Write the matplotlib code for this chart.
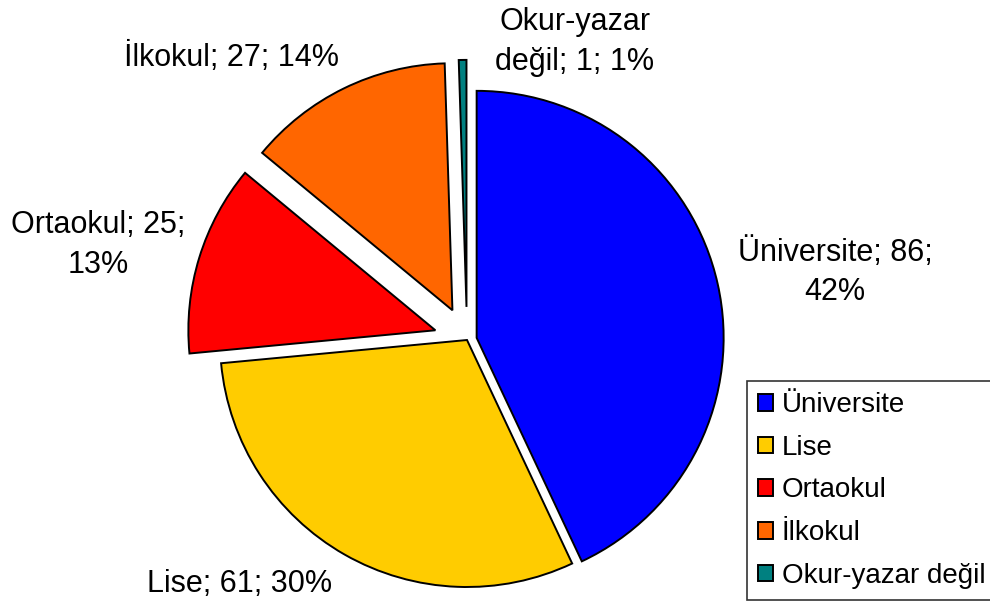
import matplotlib

matplotlib.use("Agg")

import matplotlib.pyplot as plt


plt.rcParams["font.family"] = ["Liberation Sans", "DejaVu Sans"]

# education level counts
categories = [
    "Üniversite",
    "Lise",
    "Ortaokul",
    "İlkokul",
    "Okur-yazar değil",
]
counts = [86, 61, 25, 27, 1]
percent_labels = [42, 30, 13, 14, 1]

colors = ["#0000FF", "#FFCC00", "#FF0000", "#FF6600", "#008080"]
explode = [0.04, 0.0, 0.134, 0.134, 0.134]

# label text + centre position in pixels (x, y from top)
label_texts = [
    "Üniversite; 86;\n42%",
    "Lise; 61; 30%",
    "Ortaokul; 25;\n13%",
    "İlkokul; 27; 14%",
    "Okur-yazar\ndeğil; 1; 1%",
]
label_pixels = [
    (835, 272),
    (240, 584),
    (98, 245),
    (232, 57),
    (575, 42),
]

W, H = 990, 604
CENTER = (467, 340)
RADIUS = 247


figure = plt.figure(figsize=(W / 100, H / 100), dpi=100, facecolor="white")
axis = figure.add_axes([0, 0, 1, 1])

wedges, _ = axis.pie(
    counts,
    colors=colors,
    explode=explode,
    startangle=90,
    counterclock=False,
    radius=1.0,
    wedgeprops=dict(edgecolor="black", linewidth=1.4),
)

# scale so that 1 data unit == RADIUS pixels, pie centre at CENTER
axis.set_xlim(-CENTER[0] / RADIUS, (W - CENTER[0]) / RADIUS)
axis.set_ylim(-(H - CENTER[1]) / RADIUS, CENTER[1] / RADIUS)
axis.set_aspect("auto")
axis.axis("off")

for text, (px, py) in zip(label_texts, label_pixels):
    figure.text(
        px / W,
        1 - py / H,
        text,
        ha="center",
        va="center",
        fontsize=22,
        linespacing=1.4,
        color="black",
    )

legend = figure.legend(
    wedges,
    categories,
    loc="upper left",
    bbox_to_anchor=(747 / W, 1 - 381 / H),
    borderaxespad=0,
    fontsize=20,
    frameon=True,
    fancybox=False,
    edgecolor="black",
    handlelength=0.55,
    handleheight=0.55,
    handletextpad=0.3,
    labelspacing=0.6,
    borderpad=0.4,
)
legend.get_frame().set_linewidth(1.2)

figure.savefig("out.png", dpi=100, facecolor="white")
